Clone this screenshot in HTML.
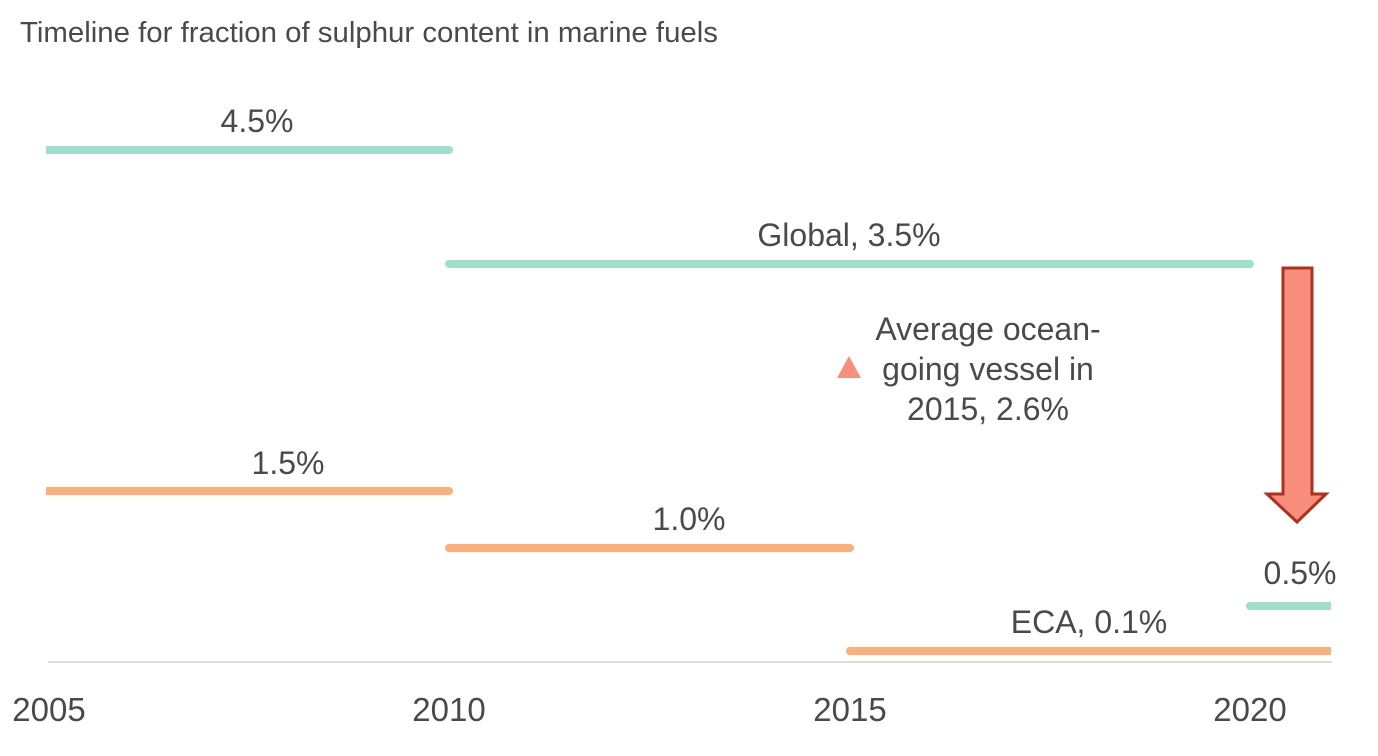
<!DOCTYPE html>
<html><head><meta charset="utf-8"><style>
html,body{margin:0;padding:0;background:#fff;}
svg{display:block;font-family:"Liberation Sans",sans-serif;}
text{fill:#4a4a4a;}
</style></head><body>
<svg width="1378" height="756" viewBox="0 0 1378 756">
<text x="20" y="42" font-size="29" textLength="698" lengthAdjust="spacingAndGlyphs">Timeline for fraction of sulphur content in marine fuels</text>
<line x1="48" y1="662" x2="1332" y2="662" stroke="#d0d0d0" stroke-width="1.5"/>
<g stroke-width="8" stroke-linecap="round">
<line x1="52" y1="150" x2="449" y2="150" stroke="#9ee0cc"/>
<line x1="449" y1="264" x2="1250" y2="264" stroke="#9ee0cc"/>
<line x1="1250" y1="606" x2="1320" y2="606" stroke="#9ee0cc"/>
<line x1="52" y1="491" x2="449" y2="491" stroke="#fbb07a"/>
<line x1="449" y1="548" x2="850" y2="548" stroke="#fbb07a"/>
<line x1="850" y1="651" x2="1320" y2="651" stroke="#fbb07a"/>
</g>
<rect x="46" y="146" width="6" height="8" fill="#9ee0cc"/>
<rect x="46" y="487" width="6" height="8" fill="#fbb07a"/>
<rect x="1318" y="602" width="13" height="8" fill="#9ee0cc"/>
<rect x="1318" y="647" width="13" height="8" fill="#fbb07a"/>
<polygon points="1283,268 1312,268 1312,494 1326,494 1297,522 1267,494 1283,494" fill="#f88e7c" stroke="#b0301c" stroke-width="3" stroke-linejoin="miter"/>
<polygon points="849,356 861,378 837,378" fill="#f88e7c"/>
<g font-size="32" text-anchor="middle">
<text x="257" y="132">4.5%</text>
<text x="849" y="246">Global, 3.5%</text>
<text x="288" y="474">1.5%</text>
<text x="689" y="530">1.0%</text>
<text x="1300" y="584">0.5%</text>
<text x="1089" y="633">ECA, 0.1%</text>
<text x="988" y="340">Average ocean-</text>
<text x="988" y="380">going vessel in</text>
<text x="988" y="420">2015, 2.6%</text>
</g>
<g font-size="33" text-anchor="middle">
<text x="49" y="721">2005</text>
<text x="449" y="721">2010</text>
<text x="850" y="721">2015</text>
<text x="1250" y="721">2020</text>
</g>
</svg>
</body></html>
